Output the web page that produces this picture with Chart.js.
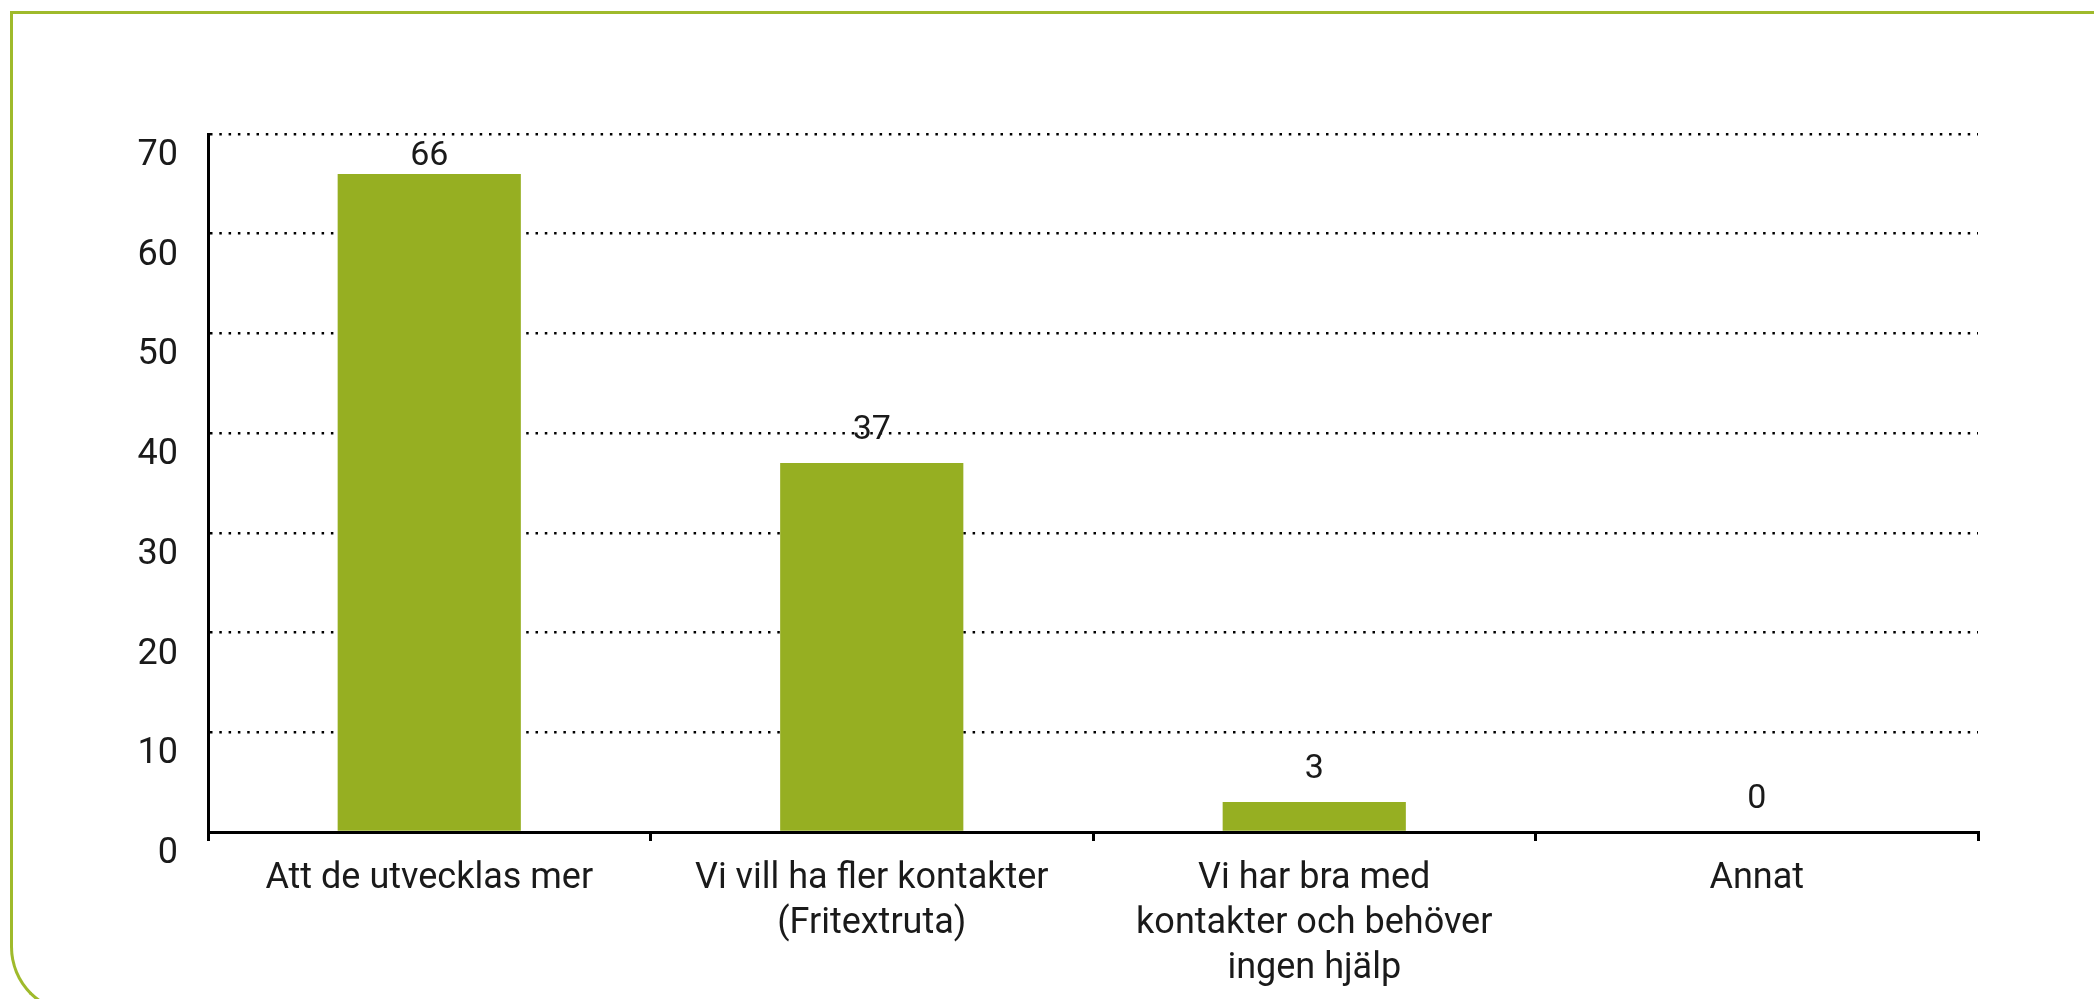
<!DOCTYPE html>
<html>
<head>
<meta charset="utf-8">
<script src="https://cdn.jsdelivr.net/npm/chart.js@4/dist/chart.umd.min.js"></script>
<style>
  html, body { margin: 0; padding: 0; background: #ffffff; overflow: hidden; }
  #frame {
    position: absolute; left: 10px; top: 11px; width: 2200px; height: 1003px;
    box-sizing: border-box;
    border-top: 3px solid #9fba2b; border-left: 3px solid #9fba2b;
    border-bottom: 3px solid #9fba2b;
    border-bottom-left-radius: 67px;
  }
  #wrap { position: absolute; left: 0; top: 0; width: 2094px; height: 999px; }
</style>
</head>
<body>
<div id="frame"></div>
<div id="wrap"><canvas id="c" width="2094" height="999"></canvas></div>
<script>
const categories = [
  ["Att de utvecklas mer"],
  ["Vi vill ha fler kontakter", "(Fritextruta)"],
  ["Vi har bra med", "kontakter och behöver", "ingen hjälp"],
  ["Annat"]
];
const values = [66, 37, 3, 0];
const yTicks = [0, 10, 20, 30, 40, 50, 60, 70];

const FONT = "Roboto, 'DejaVu Sans', sans-serif";
const TEXT = "#1a1a1a";
const BAR = "#96af22";

const valueLabels = {
  id: 'valueLabels',
  afterDatasetsDraw(chart) {
    const ctx = chart.ctx;
    const meta = chart.getDatasetMeta(0);
    const top = chart.chartArea.top;
    ctx.save();
    ctx.font = "34px " + FONT;
    ctx.fillStyle = TEXT;
    ctx.textAlign = "center";
    ctx.textBaseline = "middle";
    meta.data.forEach((bar, i) => {
      const y = Math.max(bar.y - 33, top + 22);
      ctx.fillText(String(values[i]), bar.x, y);
    });
    ctx.restore();
  }
};

new Chart(document.getElementById('c'), {
  type: 'bar',
  data: {
    labels: categories,
    datasets: [{
      data: values,
      backgroundColor: BAR,
      borderWidth: 0,
      categoryPercentage: 1,
      barPercentage: 0.414
    }]
  },
  options: {
    responsive: false,
    animation: false,
    events: [],
    layout: { padding: { left: 0, right: 116, top: 134, bottom: 0 } },
    plugins: { legend: { display: false }, tooltip: { enabled: false }, title: { display: false } },
    scales: {
      x: {
        offset: true,
        grid: {
          offset: true,
          drawOnChartArea: false,
          drawTicks: true,
          tickLength: 9,
          color: "#000000",
          lineWidth: 3
        },
        border: { display: true, color: "#000000", width: 3 },
        ticks: {
          autoSkip: false,
          maxRotation: 0,
          minRotation: 0,
          padding: 15,
          color: TEXT,
          font: { family: FONT, size: 36, lineHeight: 1.25 }
        },
        afterFit(scale) { scale.height = 999 - 832; }
      },
      y: {
        min: 0,
        max: 70,
        afterBuildTicks(scale) { scale.ticks = yTicks.map(v => ({ value: v })); },
        grid: {
          drawTicks: false,
          color: "#000000",
          lineWidth: 2.5
        },
        border: { display: true, color: "#000000", width: 3, dash: [2.5, 6.8] },
        ticks: {
          padding: 30,
          labelOffset: 22,
          color: TEXT,
          font: { family: FONT, size: 36 }
        },
        afterFit(scale) { scale.width = 208; }
      }
    }
  },
  plugins: [valueLabels]
});
</script>
</body>
</html>
